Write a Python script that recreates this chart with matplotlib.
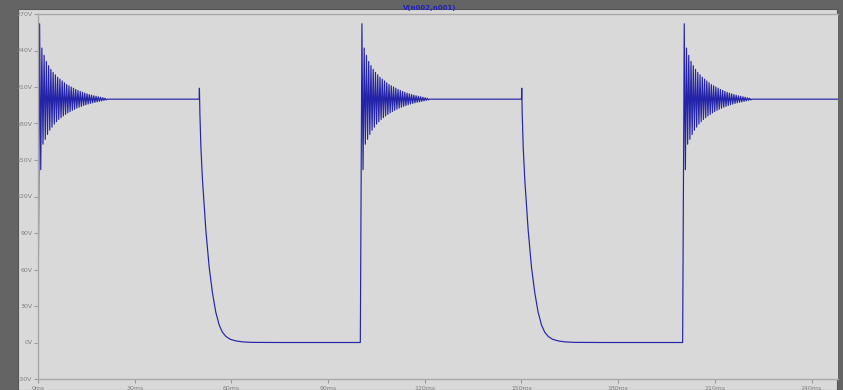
import matplotlib
matplotlib.use("Agg")
import matplotlib.pyplot as plt
from matplotlib.patches import Rectangle

# square wave edges (ms) and levels (V)
rise_times = [0, 100, 200]
fall_times = [50, 150]
t_end = 248.2
v_high = 200
v_low = 0

# ringing after each rising edge, read peak by peak (V)
ring_start = 0.5
ring_period = 0.7
ring_peaks = [262, 242, 236, 231, 227.5, 224.5, 222, 220, 218, 216.5, 215, 213.5,
              212, 211, 210, 209, 208, 207.2, 206.4, 205.7, 205, 204.4, 203.8,
              203.3, 202.8, 202.4, 202, 201.6, 201.2, 200.8]
ring_troughs = [142, 163, 167, 171, 174.5, 177, 179.5, 181.5, 183.3, 184.8, 186.2,
                187.5, 188.7, 189.8, 190.8, 191.7, 192.6, 193.4, 194.1, 194.8,
                195.4, 196, 196.5, 197, 197.4, 197.8, 198.2, 198.6, 199, 199.4]

# decay after each falling edge (ms offset, V)
fall_dt = [0, 0.08, 0.22, 0.53, 1.02, 2.07, 3.1, 4.12, 5.15, 6.2, 7.2, 8.3, 9.6,
           11.4, 13.5, 16.4, 25]
fall_v = [200, 209, 189, 161, 134, 92.5, 62, 41, 25, 14.5, 8.5, 5, 2.7, 1.3, 0.5,
          0.1, 0]

x_ticks = [0, 30, 60, 90, 120, 150, 180, 210, 240]
x_labels = ['0ms', '30ms', '60ms', '90ms', '120ms', '150ms', '180ms', '210ms', '240ms']
y_ticks = [-30, 0, 30, 60, 90, 120, 150, 180, 210, 240, 270]
y_labels = ['-30V', '0V', '30V', '60V', '90V', '120V', '150V', '180V', '210V', '240V', '270V']

t = []
v = []
for i, tr in enumerate(rise_times):
    t.append(tr)
    v.append(v_low)
    for k in range(len(ring_peaks)):
        t.append(tr + ring_start + k * ring_period)
        v.append(ring_peaks[k])
        t.append(tr + ring_start + (k + 0.5) * ring_period)
        v.append(ring_troughs[k])
    t.append(tr + ring_start + len(ring_peaks) * ring_period)
    v.append(v_high)
    if i < len(fall_times):
        tf = fall_times[i]
        for dt, fv in zip(fall_dt, fall_v):
            t.append(tf + dt)
            v.append(fv)
    else:
        t.append(t_end)
        v.append(v_high)

fig = plt.figure(figsize=(8.43, 3.9), dpi=100)
fig.patch.set_facecolor('#646464')
panel = Rectangle((18 / 843, 0), 819 / 843, 381 / 390,
                  transform=fig.transFigure, facecolor='#d9d9d9',
                  edgecolor='#555555', linewidth=0.8, zorder=0)
fig.patches.append(panel)

ax = fig.add_axes([38 / 843, 11 / 390, 800 / 843, 365 / 390])
ax.set_zorder(2)
ax.set_facecolor('#d9d9d9')
ax.plot(t, v, color='#2424aa', linewidth=0.85)

ax.set_xlim(0, t_end)
ax.set_ylim(-30, 270)
ax.set_xticks(x_ticks)
ax.set_xticklabels(x_labels)
ax.set_yticks(y_ticks)
ax.set_yticklabels(y_labels)
ax.tick_params(colors='#9a9a9a', labelcolor='#808080', labelsize=4.5,
               length=3, width=0.8, pad=1)
ax.tick_params(axis='x', pad=2)
for side in ['left', 'bottom', 'top']:
    ax.spines[side].set_color('#a8a8a8')
    ax.spines[side].set_linewidth(1.0)
ax.spines['right'].set_visible(False)

fig.text(430 / 843, 382 / 390, 'V(n002,n001)', color='#2020c0', fontsize=5,
         ha='center', va='center', fontweight='bold', zorder=3)

fig.savefig('out.png', dpi=100, facecolor=fig.get_facecolor())
